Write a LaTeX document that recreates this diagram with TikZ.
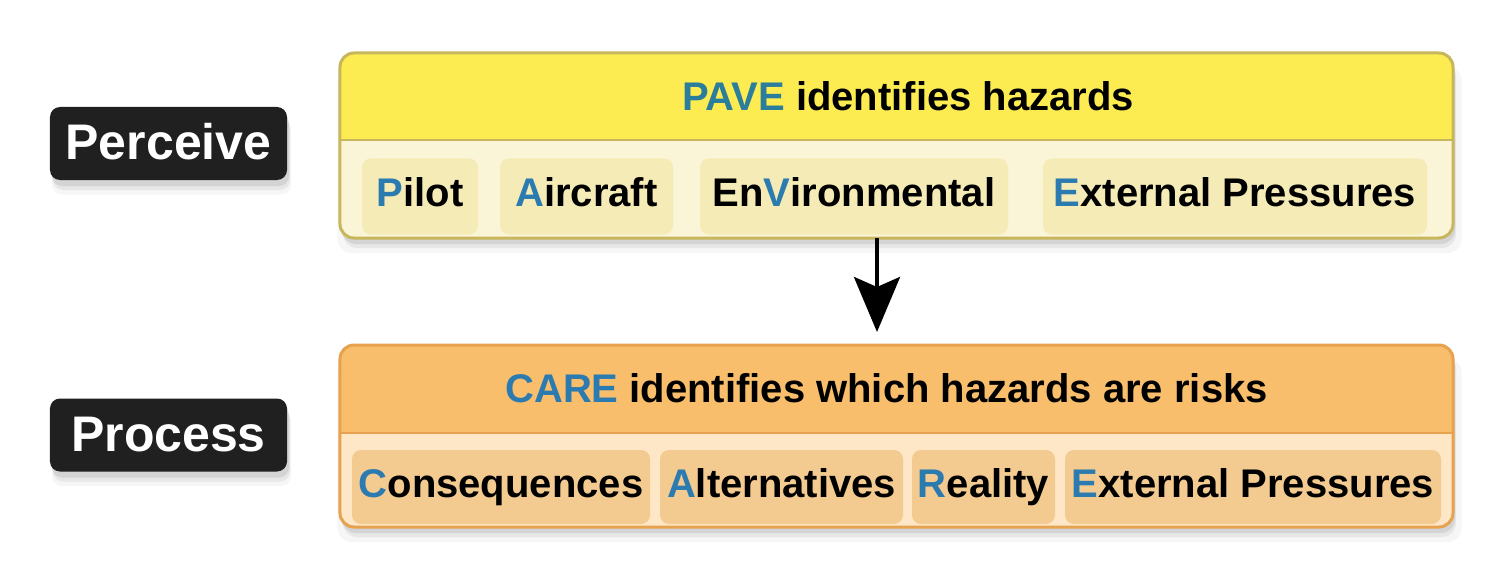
\documentclass[tikz,border=0pt]{standalone}
\usepackage{fontspec}
\setmainfont{Liberation Sans}
\usetikzlibrary{shadows,arrows.meta}
\definecolor{yhead}{HTML}{FCEC52}
\definecolor{ylow}{HTML}{FBF5D8}
\definecolor{ysub}{HTML}{F5EBB6}
\definecolor{yline}{HTML}{C8B65C}
\definecolor{ohead}{HTML}{F8BE6C}
\definecolor{olow}{HTML}{FDE7C6}
\definecolor{osub}{HTML}{F3CA90}
\definecolor{oline}{HTML}{E6A24E}
\definecolor{cblue}{HTML}{2C7BB0}
\definecolor{pblue}{HTML}{2B7D9C}
\definecolor{labfill}{HTML}{202020}
\newcommand\pvsubfont{\fontsize{40bp}{48bp}\selectfont\bfseries}
\newcommand\pvlabfont{\fontsize{50bp}{60bp}\selectfont\bfseries}
\begin{document}
\begin{tikzpicture}[x=1bp,y=-1bp,
  shad/.style={drop shadow={opacity=0.07, shadow xshift=3bp, shadow yshift=-14bp, shadow scale=1.01},
               drop shadow={opacity=0.12, shadow xshift=3bp, shadow yshift=-10bp},
               drop shadow={opacity=0.18, shadow xshift=2bp, shadow yshift=-6bp}},
  outer/.style={rectangle, rounded corners=14bp, inner sep=0pt, outer sep=0pt, line width=3bp},
  sub/.style={rectangle, rounded corners=9bp, inner sep=0pt, outer sep=0pt,
              text height=29bp, text depth=8bp, font=\pvsubfont},
  lab/.style={rectangle, rounded corners=10bp, fill=labfill, text=white, inner sep=0pt, outer sep=0pt,
              minimum width=237bp, minimum height=73bp, text height=36bp, text depth=3bp,
              font=\pvlabfont, shad},
  head/.style={anchor=base, font=\pvsubfont, inner sep=0pt},
  arr/.style={line width=4bp, -{Stealth[length=55bp,width=46bp,inset=10bp]}, shorten >=13bp}
]
\useasboundingbox[fill=white] (0,0) rectangle (1501,576);

% ---------- PAVE box ----------
\node[outer, fill=ylow, shad, minimum width=1113bp, minimum height=185bp] (pave) at (896.5,145.5) {};
\begin{scope}
  \clip (340,53) rectangle (1453,140);
  \fill[yhead, rounded corners=14bp] (pave.north west) rectangle (pave.south east);
\end{scope}
\node[sub, fill=ysub, minimum width=116bp, minimum height=76bp] (pilot) at (420,196.5) {\textcolor{cblue}{P}ilot};
\node[sub, fill=ysub, minimum width=173bp, minimum height=76bp] (aircraft) at (586.5,196.5) {\textcolor{cblue}{A}ircraft};
\node[sub, fill=ysub, minimum width=308bp, minimum height=76bp] (env) at (854,196.5) {En\textcolor{cblue}{V}ironmental};
\node[sub, fill=ysub, minimum width=384bp, minimum height=76bp] (extp) at (1235,196.5) {\textcolor{cblue}{E}xternal Pressures};
\coordinate (ydiv) at (0,140);
\draw[yline, line width=2.5bp] (pave.west |- ydiv) -- (pave.east |- ydiv);
\draw[yline, line width=3bp, rounded corners=14bp] (pave.north west) rectangle (pave.south east);
\node[head] (pavet) at (908,111) {\textcolor{pblue}{PAVE} identifies hazards};

% ---------- CARE box ----------
\node[outer, fill=olow, shad, minimum width=1113bp, minimum height=182bp] (care) at (896.5,436) {};
\begin{scope}
  \clip (340,345) rectangle (1453,433);
  \fill[ohead, rounded corners=14bp] (care.north west) rectangle (care.south east);
\end{scope}
\node[sub, fill=osub, minimum width=298bp, minimum height=74bp] (cons) at (501,487) {\textcolor{cblue}{C}onsequences};
\node[sub, fill=osub, minimum width=243bp, minimum height=74bp] (alt) at (781.5,487) {\textcolor{cblue}{A}lternatives};
\node[sub, fill=osub, minimum width=143bp, minimum height=74bp] (real) at (983.5,487) {\textcolor{cblue}{R}eality};
\node[sub, fill=osub, minimum width=376bp, minimum height=74bp] (extc) at (1253,487) {\textcolor{cblue}{E}xternal Pressures};
\coordinate (odiv) at (0,433);
\draw[oline, line width=2.5bp] (care.west |- odiv) -- (care.east |- odiv);
\draw[oline, line width=3bp, rounded corners=14bp] (care.north west) rectangle (care.south east);
\node[head] (caret) at (886.5,402) {\textcolor{cblue}{CARE} identifies which hazards are risks};

% ---------- side labels ----------
\node[lab] (perceive) at (168.5,143.5) {Perceive};
\node[lab] (process) at (168.5,435) {Process};

% ---------- arrow ----------
\coordinate (ax) at (877,0);
\draw[arr] (pave.south -| ax) -- (care.north -| ax);
\end{tikzpicture}
\end{document}
